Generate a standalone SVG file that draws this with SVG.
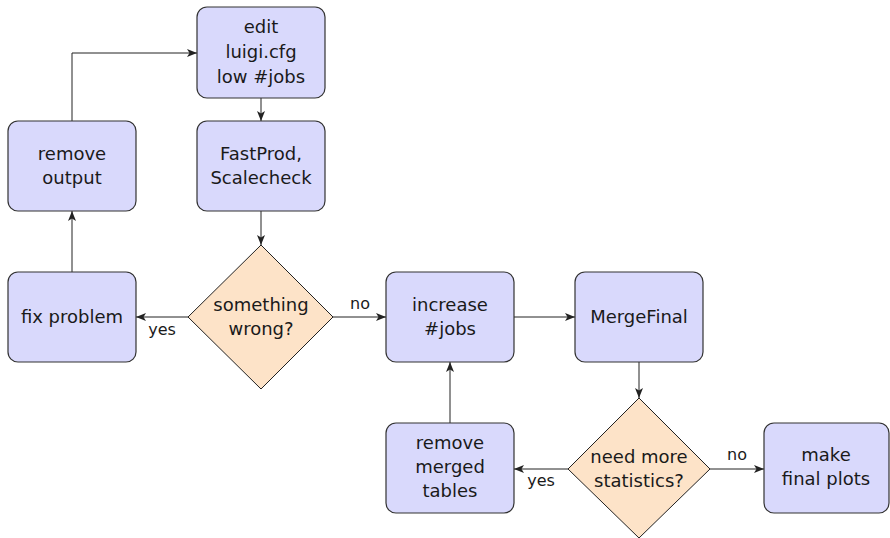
<svg xmlns="http://www.w3.org/2000/svg" width="890" height="538" viewBox="0 0 890 538">
<style>
.box{fill:#d9d9fc;stroke:#333;stroke-width:1.2}
.dia{fill:#fde3c8;stroke:#222;stroke-width:1}
.t{font-family:"DejaVu Sans","Open Sans",sans-serif;font-size:18px;fill:#1a1a1a;text-anchor:middle}
.l{font-family:"DejaVu Sans","Open Sans",sans-serif;font-size:16px;fill:#1a1a1a;text-anchor:middle}
.c{fill:none;stroke:#222;stroke-width:1;marker-end:url(#ah)}
</style>
<defs>
<marker id="ah" viewBox="0 0 10 8" refX="10" refY="4" markerWidth="10" markerHeight="8" markerUnits="userSpaceOnUse" orient="auto">
<path d="M0,0 L10,4 L0,8 L2.5,4 Z" fill="#222"/>
</marker>
</defs>
<g id="connectors">
<path class="c" d="M261,98 V121"/>
<path class="c" d="M261,211 V245"/>
<path class="c" d="M188,317 H136"/>
<path class="c" d="M333,317 H386"/>
<path class="c" d="M72,272 V211"/>
<path class="c" d="M72,121 V53 H197"/>
<path class="c" d="M514,317 H575"/>
<path class="c" d="M639,362 V398"/>
<path class="c" d="M568,469 H514"/>
<path class="c" d="M710,469 H764"/>
<path class="c" d="M450,423 V362"/>
<text class="l" x="162" y="335">yes</text>
<text class="l" x="360" y="309">no</text>
<text class="l" x="541" y="486">yes</text>
<text class="l" x="737" y="460">no</text>
</g>
<g id="edit">
<rect class="box" x="197" y="7" width="128" height="91" rx="10"/>
<text class="t" x="261" y="33">edit</text>
<text class="t" x="261" y="58">luigi.cfg</text>
<text class="t" x="261" y="83">low #jobs</text>
</g>
<g id="removeoutput">
<rect class="box" x="8" y="121" width="128" height="90" rx="10"/>
<text class="t" x="72" y="160">remove</text>
<text class="t" x="72" y="184">output</text>
</g>
<g id="fastprod">
<rect class="box" x="197" y="121" width="128" height="90" rx="10"/>
<text class="t" x="261" y="160">FastProd,</text>
<text class="t" x="261" y="184">Scalecheck</text>
</g>
<g id="fixproblem">
<rect class="box" x="8" y="272" width="128" height="90" rx="10"/>
<text class="t" x="72" y="323">fix problem</text>
</g>
<g id="somethingwrong">
<polygon class="dia" points="261,245 333,317 261,389 188,317"/>
<text class="t" x="261" y="311">something</text>
<text class="t" x="261" y="335">wrong?</text>
</g>
<g id="increase">
<rect class="box" x="386" y="272" width="128" height="90" rx="10"/>
<text class="t" x="450" y="311">increase</text>
<text class="t" x="450" y="335">#jobs</text>
</g>
<g id="mergefinal">
<rect class="box" x="575" y="272" width="128" height="90" rx="10"/>
<text class="t" x="639" y="323">MergeFinal</text>
</g>
<g id="needmore">
<polygon class="dia" points="639,398 710,469 639,538 568,469"/>
<text class="t" x="639" y="463">need more</text>
<text class="t" x="639" y="487">statistics?</text>
</g>
<g id="removemerged">
<rect class="box" x="386" y="423" width="128" height="90" rx="10"/>
<text class="t" x="450" y="449">remove</text>
<text class="t" x="450" y="473">merged</text>
<text class="t" x="450" y="497">tables</text>
</g>
<g id="finalplots">
<rect class="box" x="764" y="423" width="125" height="90" rx="10"/>
<text class="t" x="826" y="461">make</text>
<text class="t" x="826" y="485">final plots</text>
</g>
</svg>
